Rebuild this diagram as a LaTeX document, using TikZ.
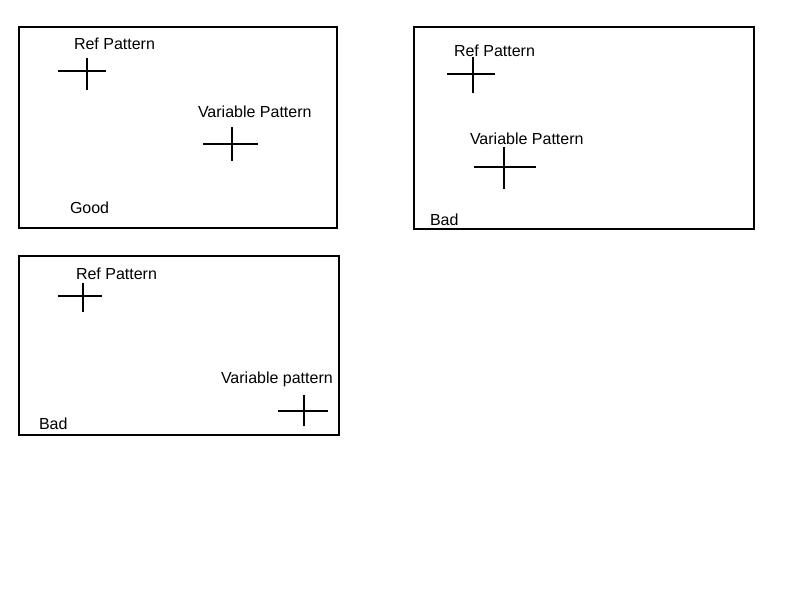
\documentclass[tikz,border=0pt]{standalone}
\usepackage{fontspec}
\setmainfont{Liberation Sans}
\begin{document}
\begin{tikzpicture}[x=1pt,y=-1pt,line width=2pt,
		lbl/.style={anchor=base west,inner sep=0pt,font=\fontsize{16}{19}\selectfont}]
	\useasboundingbox (0,0) rectangle (800,600);
	% good case
	\draw (19,27) rectangle (337,228);
	\node[lbl] (refA) at (73,49) {Ref Pattern};
	\draw (58,71)--(106,71)  (87,58)--(87,90);
	\node[lbl] (varA) at (197,117) {Variable Pattern};
	\draw (203,144)--(258,144)  (232,127)--(232,161);
	\node[lbl] (goodA) at (69,213) {Good};
	% bad case, variable too low
	\draw (414,27) rectangle (754,229);
	\node[lbl] (refB) at (453,56) {Ref Pattern};
	\draw (447,74)--(495,74)  (473,57)--(473,93);
	\node[lbl] (varB) at (469,144) {Variable Pattern};
	\draw (474,167)--(536,167)  (504,147)--(504,189);
	\node[lbl] (badB) at (429,225) {Bad};
	% bad case, variable in corner
	\draw (19,256) rectangle (339,435);
	\node[lbl] (refC) at (75,279) {Ref Pattern};
	\draw (58,296)--(102,296)  (83,283)--(83,312);
	\node[lbl] (varC) at (220,383) {Variable pattern};
	\draw (278,411)--(328,411)  (304,395)--(304,426);
	\node[lbl] (badC) at (38,429) {Bad};
\end{tikzpicture}
\end{document}
